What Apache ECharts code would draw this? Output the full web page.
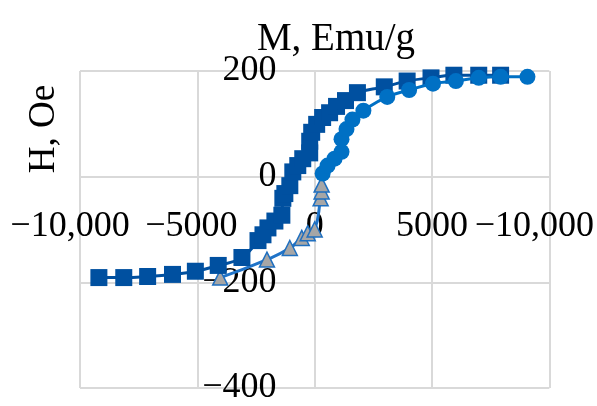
<!DOCTYPE html>
<html>
<head>
<meta charset="utf-8">
<script src="https://cdn.jsdelivr.net/npm/echarts@6/dist/echarts.min.js"></script>
<style>
html,body{margin:0;padding:0;background:#fff;}
#chart{width:597px;height:406px;}
</style>
</head>
<body>
<div id="chart"></div>
<script>
// Tick labels (as printed in the reference)
const xTickLabels = ['\u221210,000', '\u22125000', '0', '5000', '\u221210,000'];
const yTickLabels = ['\u2212400', '\u2212200', '0', '200'];

// Series 1: dark blue squares
const sqX = [-9195, -8135, -7118, -6059, -5084, -4110, -3100, -2415, -2203, -1991, -1695, -1398, -1356, -1271, -1059, -932, -720, -508, -212, -212, -127, 85, 339, 636, 932, 1314, 1822, 2966, 3940, 4957, 5932, 6991, 7923];
const sqY = [-191, -191, -189, -185, -179, -168, -153, -121, -110, -97, -84, -73, -41, -32, -17, 9, 21, 34, 45, 67, 84, 99, 112, 121, 133, 144, 159, 170, 181, 187, 192, 192, 192];

// Series 2: light blue circles
const ciX = [339, 551, 847, 1144, 1144, 1356, 1610, 2076, 3093, 4025, 5042, 6017, 6991, 7923, 9067];
const ciY = [6, 21, 34, 47, 71, 90, 108, 125, 151, 164, 176, 181, 187, 189, 189];

// Series 3: grey triangles
const trX = [-4025, -2034, -1059, -551, -297, 0, 254, 297, 297];
const trY = [-191, -157, -135, -116, -107, -100, -41, -28, -15];

const toPairs = (xs, ys) => xs.map((x, i) => [x, ys[i]]);

const FONT = 'Liberation Serif';
const FS = 36;
const GRID = {left: 80, right: 46, top: 71, bottom: 14};
const W = 597, H = 406;
const plotW = W - GRID.left - GRID.right;
const plotH = H - GRID.top - GRID.bottom;
// axes sit at the other axis' zero (x range -10000..10000, y range -400..200)
const xAxisOffset = -plotH * (0 - (-400)) / (200 - (-400));
const yAxisOffset = -plotW * (0 - (-10000)) / (10000 - (-10000));

const chart = echarts.init(document.getElementById('chart'), null, {renderer: 'canvas'});
const xShift = {0: 'a', 1: 'b', 4: 'c'};
chart.setOption({
  animation: false,
  backgroundColor: '#ffffff',
  grid: Object.assign({containLabel: false}, GRID),
  xAxis: {
    type: 'value', min: -10000, max: 10000, interval: 5000,
    position: 'bottom', offset: xAxisOffset,
    axisLine: {show: false, onZero: false},
    axisTick: {show: false},
    splitLine: {lineStyle: {color: '#d9d9d9', width: 2}},
    axisLabel: {
      margin: 35, color: '#000', fontFamily: FONT, fontSize: FS,
      showMinLabel: true, showMaxLabel: true, hideOverlap: false,
      formatter: (v) => {
        const i = Math.round((v + 10000) / 5000);
        const t = xTickLabels[i];
        return xShift[i] ? '{' + xShift[i] + '|' + t + '}' : t;
      },
      rich: {
        a: {fontFamily: FONT, fontSize: FS, color: '#000', padding: [0, 20, 0, 0]},
        b: {fontFamily: FONT, fontSize: FS, color: '#000', padding: [0, 12, 0, 0]},
        c: {fontFamily: FONT, fontSize: FS, color: '#000', padding: [0, 30, 0, 0]}
      }
    }
  },
  yAxis: {
    type: 'value', min: -400, max: 200, interval: 200,
    position: 'left', offset: yAxisOffset,
    axisLine: {show: false, onZero: false},
    axisTick: {show: false},
    splitLine: {lineStyle: {color: '#d9d9d9', width: 2}},
    axisLabel: {
      margin: 39, color: '#000', fontFamily: FONT, fontSize: FS,
      showMinLabel: true, showMaxLabel: true, hideOverlap: false,
      formatter: (v) => yTickLabels[Math.round((v + 400) / 200)]
    }
  },
  graphic: [
    {type: 'text', x: 336, y: 40, style: {text: 'M, Emu/g', font: '39px "Liberation Serif"', fill: '#000', align: 'center', verticalAlign: 'middle'}},
    {type: 'text', x: 44, y: 129, rotation: Math.PI / 2, style: {text: 'H, Oe', font: '37px "Liberation Serif"', fill: '#000', align: 'center', verticalAlign: 'middle'}}
  ],
  series: [
    {
      type: 'line', data: toPairs(trX, trY), smooth: true,
      symbol: 'triangle', symbolSize: 15,
      lineStyle: {color: '#1f73c8', width: 3},
      itemStyle: {color: '#a6a6a6', borderColor: '#1f6fbf', borderWidth: 1.5},
      z: 2
    },
    {
      type: 'line', data: toPairs(sqX, sqY), smooth: true,
      symbol: 'rect', symbolSize: 17,
      lineStyle: {color: '#0050a0', width: 3},
      itemStyle: {color: '#0050a0'},
      z: 3
    },
    {
      type: 'line', data: toPairs(ciX, ciY), smooth: true,
      symbol: 'circle', symbolSize: 16,
      lineStyle: {color: '#0070c4', width: 3},
      itemStyle: {color: '#0070c4'},
      z: 4
    }
  ]
});
</script>
</body>
</html>
